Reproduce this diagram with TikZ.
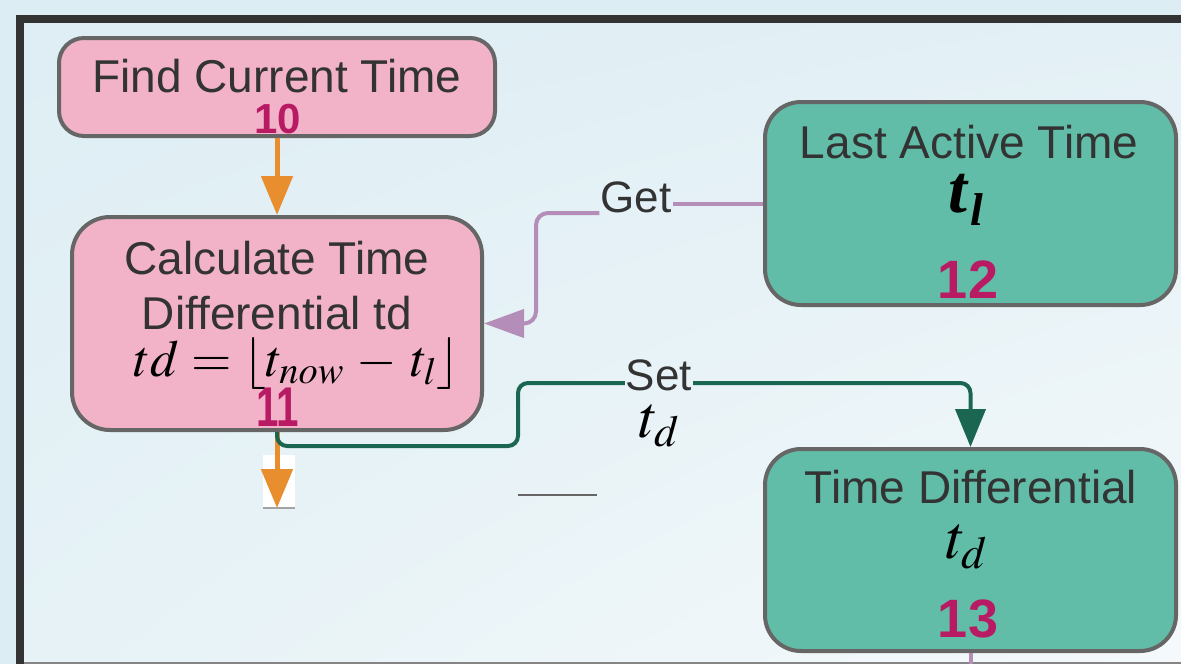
\RequirePackage{fix-cm}
\documentclass[tikz,border=0pt]{standalone}
\usepackage{mathptmx}
\usepackage{amsmath}
\usepackage{fontspec}
\setmainfont{Liberation Sans}
\newfontfamily\timesfam{Liberation Serif}
\usepackage{graphicx}
\usetikzlibrary{arrows.meta,shadings}

\definecolor{bgout}{HTML}{DCEEF4}
\definecolor{bgA}{HTML}{DEEEF4}
\definecolor{bgB}{HTML}{E3F0F5}
\definecolor{bgC}{HTML}{E6F2F6}
\definecolor{bgD}{HTML}{F5F9FB}
\definecolor{framec}{HTML}{333333}
\definecolor{borderc}{HTML}{666666}
\definecolor{pinkfill}{HTML}{F2B3C8}
\definecolor{tealfill}{HTML}{62BDA8}
\definecolor{txt}{HTML}{333333}
\definecolor{numc}{HTML}{B81B63}
\definecolor{orangec}{HTML}{E88E2E}
\definecolor{purplec}{HTML}{B48DB8}
\definecolor{greenc}{HTML}{1B6651}

\begin{document}
\begin{tikzpicture}[x=1pt,y=-1pt,
  box/.style={draw=borderc, line width=4pt, inner sep=0pt},
  pinkbox/.style={box, fill=pinkfill},
  tealbox/.style={box, fill=tealfill},
  lbl/.style={text=txt, inner sep=0pt, anchor=base, font=\fontsize{46}{52}\selectfont},
  edgelbl/.style={text=txt, inner sep=1pt, anchor=base, font=\fontsize{44}{50}\selectfont},
  num/.style={text=numc, inner sep=0pt, anchor=base, font=\bfseries\fontsize{#1}{#1}\selectfont},
  mth/.style={inner sep=0pt, anchor=base, text=black},
  flow/.style={draw=orangec, line width=5pt, -{Triangle[length=39pt,width=31pt]}},
  setline/.style={draw=greenc, line width=4pt, rounded corners=10pt},
  getline/.style={draw=purplec, line width=4pt, rounded corners=12pt},
]
\useasboundingbox (0,0) rectangle (1181,664);

% background and frame
\fill[bgout] (0,0) rectangle (1181,664);
\shade[upper left=bgA, upper right=bgB, lower left=bgC, lower right=bgD]
  (24,23) rectangle (1181,664);
\draw[framec, line width=8pt] (20,664) -- (20,19) -- (1181,19);
\draw[borderc!80, line width=2pt] (24,663) -- (1181,663);

% boxes
\node[pinkbox, minimum width=436pt, minimum height=98pt, rounded corners=25pt] (n10) at (277,87) {};
\node[pinkbox, minimum width=410pt, minimum height=213pt, rounded corners=38pt] (n11) at (277,323.5) {};
\node[tealbox, minimum width=411pt, minimum height=203pt, rounded corners=36pt] (n12) at (970.5,203.5) {};
\node[tealbox, minimum width=411pt, minimum height=202pt, rounded corners=36pt] (n13) at (970.5,550) {};

% box texts
\node[lbl] (t10) at (277,92) {Find Current Time};
\node[num=42] (k10) at (278,133) {10};

\node[lbl] (t11a) at (277,274) {Calculate Time};
\node[lbl] (t11b) at (277,329) {Differential td};
\node[mth, font=\fontsize{52}{60}\selectfont] (f11) at (297,376)
  {$td = \lfloor t_{now} \mathbin{\,-\,} t_l \rfloor$};
\node[num=56] (k11) at (278,426) {\scalebox{0.72}[1]{11}};

\node[lbl] (t12) at (969,158) {Last Active Time};
\node[mth, font=\timesfam\bfseries\itshape\fontsize{68}{72}\selectfont] (f12) at (966,212)
  {t\kern0.04em\raisebox{-0.2em}{\fontsize{46}{50}\selectfont l}};
\node[num=54] (k12) at (968,298) {12};

\node[lbl] (t13) at (971,503) {Time Differential};
\node[mth, font=\fontsize{62}{68}\selectfont] (f13) at (967,558) {$t_d$};
\node[num=54] (k13) at (968,637) {13};

% open flow below the calculation step
\node[fill=white, minimum width=32pt, minimum height=53pt, inner sep=0pt] (wb) at (279,481.5) {};
\draw[borderc!60, line width=1.5pt] (wb.south west) -- (wb.south east);
\coordinate (o1) at (277,508);

% flow arrows
\draw[flow] (n10.south) -- (n11.north);
\draw[flow] (n11.south) -- (o1);

% stray rule
\coordinate (s1) at (518,495);
\coordinate (s2) at (597,495);
\draw[borderc, line width=1.5pt] (s1) -- (s2);

% Get connector
\node[edgelbl] (get) at (636,212) {Get};
\coordinate (gl) at (536,213);
\draw[getline] (n12.west) -- (get.east |- n12.west);
\draw[getline, -{Triangle[length=40pt,width=28pt]}]
  (get.west |- gl) -- (gl) -- (536,323.5) -- (n11.east);

% Set connector
\node[edgelbl] (set) at (659,390) {Set};
\node[mth, font=\fontsize{60}{66}\selectfont] (setd) at (659,437) {$t_d$};
\coordinate (sl) at (518,383);
\coordinate (sr) at (970.5,383);
\draw[setline] (n11.south) -- (277,446) -- (518,446) -- (sl) -- (set.west |- sl);
\draw[setline, -{Triangle[length=38pt,width=30pt]}]
  (set.east |- sr) -- (sr) -- (n13.north);

% link leaving the time differential store
\coordinate (p13) at (970.5,664);
\draw[purplec, line width=4pt] (n13.south) -- (p13);
\end{tikzpicture}
\end{document}
